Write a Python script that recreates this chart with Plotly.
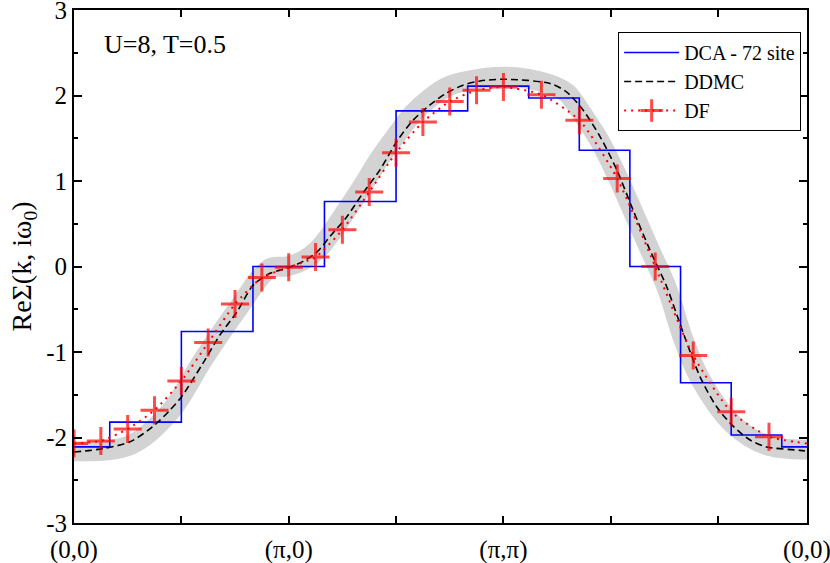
import plotly.graph_objects as go

# k-path coordinate in units of pi: (0,0) -> (pi,0) -> (pi,pi) -> (0,0)
TICK_POS = [0, 0.5, 1, 1.5, 2, 2.5, 3, 3.414]
TICK_TEXT = ["(0,0)", "", "(π,0)", "", "(π,π)", "", "", "(0,0)"]
Y_TICKS = [-3, -2, -1, 0, 1, 2, 3]
Y_TICK_TEXT = ["-3", "-2", "-1", "0", "1", "2", "3"]

# DCA 72-site cluster momenta (plotted as steps)
dca_k = [0, 0.333, 0.667, 1.0, 1.333, 1.667, 2.0, 2.236, 2.471, 2.707, 2.943, 3.179, 3.414]
dca_sigma = [-2.11, -1.82, -0.76, 0.0, 0.76, 1.82, 2.11, 1.97, 1.36, 0.0, -1.36, -1.97, -2.11]

# DDMC
ddmc_k = [0, 0.135, 0.261, 0.368, 0.447, 0.502, 0.601, 0.680, 0.759, 0.834, 0.913, 0.992,
          1.067, 1.132, 1.192, 1.270, 1.346, 1.425, 1.503, 1.579, 1.658, 1.736, 1.812,
          1.891, 2.007, 2.217, 2.295, 2.371, 2.450, 2.528, 2.604, 2.683, 2.761, 2.838,
          2.916, 2.993, 3.071, 3.149, 3.226, 3.381, 3.414]
ddmc_sigma = [-2.17, -2.13, -2.05, -1.87, -1.68, -1.52, -1.13, -0.80, -0.53, -0.22, -0.08, -0.02,
              0.06, 0.17, 0.35, 0.58, 0.86, 1.13, 1.46, 1.71, 1.89, 2.03, 2.12,
              2.17, 2.19, 2.14, 2.04, 1.83, 1.52, 1.13, 0.66, 0.19, -0.24, -0.78,
              -1.29, -1.64, -1.87, -2.03, -2.11, -2.15, -2.16]

# thick grey guide curve
band_k = [0, 0.261, 0.447, 0.601, 0.759, 0.913, 0.992, 1.067, 1.132, 1.192, 1.270, 1.346,
          1.425, 1.503, 1.579, 1.658, 1.736, 1.812, 2.007, 2.217, 2.295, 2.371, 2.450,
          2.528, 2.604, 2.683, 2.761, 2.838, 2.916, 3.071, 3.226, 3.414]
band_sigma = [-2.16, -2.09, -1.70, -1.09, -0.51, -0.02, 0.0, 0.07, 0.19, 0.37, 0.66, 0.95,
              1.27, 1.54, 1.79, 1.97, 2.10, 2.16, 2.22, 2.13, 2.03, 1.77, 1.46,
              1.07, 0.64, 0.19, -0.25, -0.85, -1.31, -1.85, -2.09, -2.14]

# DF
df_k = [0, 0.125, 0.25, 0.375, 0.5, 0.625, 0.75, 0.875, 1.0, 1.125, 1.25, 1.375, 1.5,
        1.625, 1.75, 1.875, 2.0, 2.177, 2.354, 2.530, 2.707, 2.884, 3.061, 3.237, 3.414]
df_sigma = [-2.07, -2.04, -1.90, -1.68, -1.34, -0.89, -0.44, -0.13, -0.01, 0.11, 0.43, 0.87, 1.33,
            1.69, 1.93, 2.06, 2.10, 2.01, 1.71, 1.03, 0.0, -1.04, -1.70, -1.99, -2.07]

FONT = "Liberation Serif, Times New Roman, serif"

fig = go.Figure()

fig.add_trace(go.Scatter(x=band_k, y=band_sigma, mode="lines", showlegend=False,
                         line=dict(color="#d3d3d3", width=20, shape="spline", smoothing=1.0),
                         hoverinfo="skip"))
fig.add_trace(go.Scatter(x=dca_k, y=dca_sigma, mode="lines", name="DCA - 72 site",
                         line=dict(color="#0000ff", width=1.6, shape="hvh")))
fig.add_trace(go.Scatter(x=ddmc_k, y=ddmc_sigma, mode="lines", name="DDMC",
                         line=dict(color="black", width=1.6, dash="7px,4px",
                                   shape="spline", smoothing=0.8)))
fig.add_trace(go.Scatter(x=df_k, y=df_sigma, mode="lines+markers", name="DF",
                         line=dict(color="#ff0000", width=2, dash="2px,5px",
                                   shape="spline", smoothing=0.6),
                         marker=dict(symbol="cross-thin", size=[20] * (len(df_k) - 1) + [0],
                                     line=dict(color="#ff0000", width=3))))

fig.add_annotation(text="U=8, T=0.5", xref="paper", yref="paper", x=0.038, y=0.932,
                   xanchor="left", yanchor="middle", showarrow=False,
                   font=dict(family=FONT, size=26, color="black"))

fig.update_xaxes(range=[0, 3.414], tickmode="array", tickvals=TICK_POS, ticktext=TICK_TEXT,
                 ticks="inside", ticklen=7, tickwidth=1.5, tickcolor="black",
                 showline=True, linewidth=2, linecolor="black", mirror="ticks",
                 showgrid=False, zeroline=False, ticklabeloverflow="allow",
                 ticklabelstandoff=3,
                 tickfont=dict(family=FONT, size=25, color="black"))
fig.update_yaxes(range=[-3, 3], tickmode="array", tickvals=Y_TICKS, ticktext=Y_TICK_TEXT,
                 ticks="inside", ticklen=8, tickwidth=1.5, tickcolor="black",
                 minor=dict(dtick=0.5, tick0=0, ticks="inside", ticklen=4,
                            tickwidth=1.5, tickcolor="black", showgrid=False),
                 showline=True, linewidth=2, linecolor="black", mirror="ticks",
                 showgrid=False, zeroline=False, ticklabeloverflow="allow",
                 tickfont=dict(family=FONT, size=25, color="black"),
                 title=dict(text="ReΣ(k, iω<sub>0</sub>)", standoff=6,
                            font=dict(family=FONT, size=28, color="black")))

fig.update_layout(width=830, height=563, template="none",
                  margin=dict(l=74, r=23, t=10, b=40),
                  paper_bgcolor="white", plot_bgcolor="white",
                  legend=dict(x=0.992, y=0.957, xanchor="right", yanchor="top",
                              bgcolor="white", bordercolor="black", borderwidth=1,
                              font=dict(family=FONT, size=20, color="black"),
                              itemwidth=55, tracegroupgap=0),
                  showlegend=True)

# the page's default 8px body margin would shift the chart, so drop it
fig.write_html("out.html", config={"displayModeBar": False},
               post_script="document.body.style.margin='0';")
